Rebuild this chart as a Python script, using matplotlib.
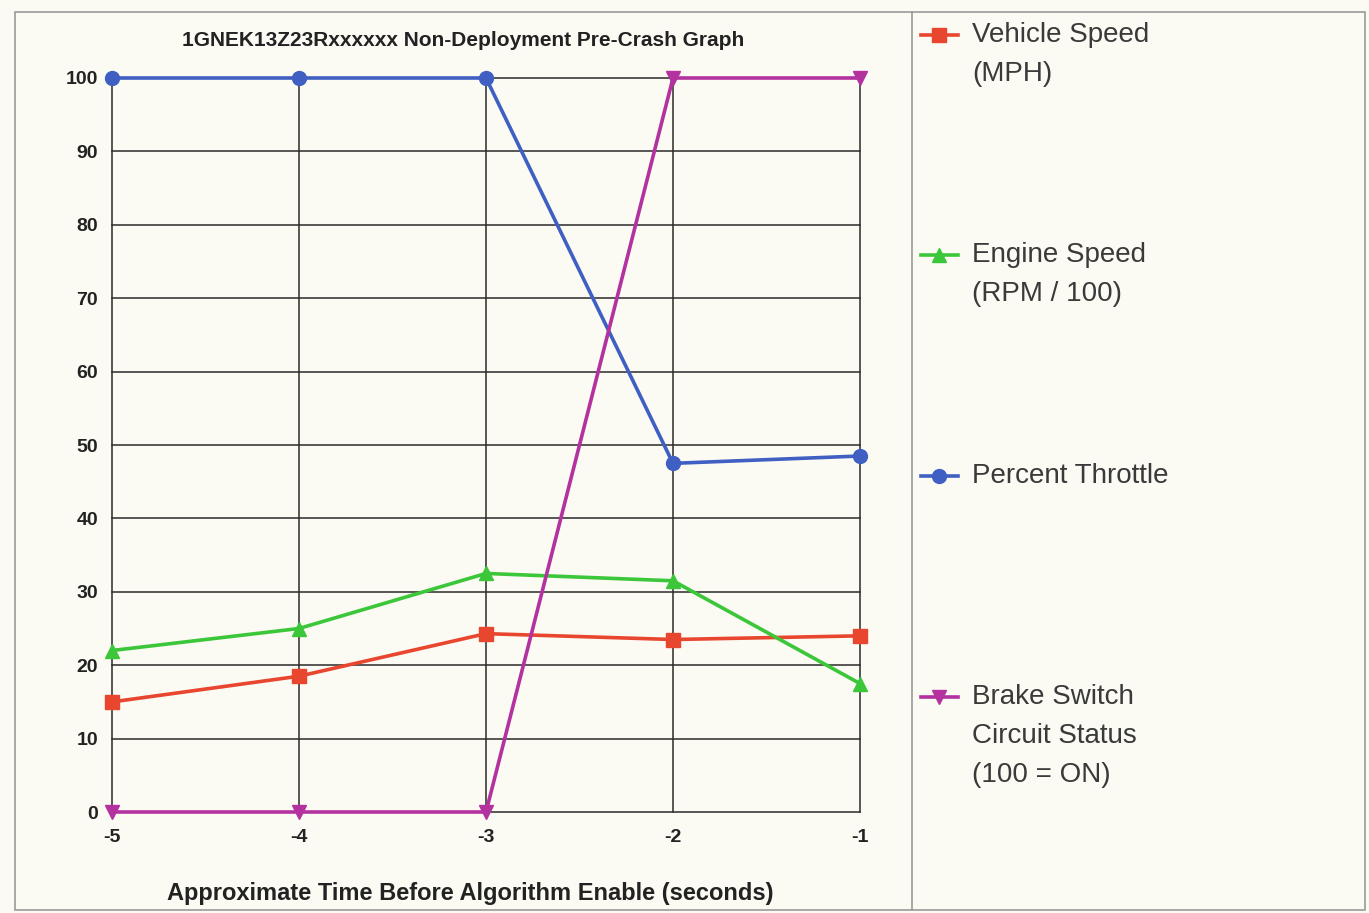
import matplotlib.pyplot as plt
from matplotlib.lines import Line2D
from matplotlib.patches import Rectangle

plt.rcParams['axes.unicode_minus'] = False

# Data
seconds = [-5, -4, -3, -2, -1]
vehicle_speed = [15, 18.5, 24.3, 23.5, 24]
engine_speed = [22, 25, 32.5, 31.5, 17.5]
percent_throttle = [100, 100, 100, 47.5, 48.5]
brake_switch = [0, 0, 0, 100, 100]

y_ticks = [0, 10, 20, 30, 40, 50, 60, 70, 80, 90, 100]

series = [
    (vehicle_speed, 's', '#e8462e', ['Vehicle Speed', '(MPH)']),
    (engine_speed, '^', '#3cc63a', ['Engine Speed', '(RPM / 100)']),
    (percent_throttle, 'o', '#3f5fc2', ['Percent Throttle']),
    (brake_switch, 'v', '#b3329f', ['Brake Switch', 'Circuit Status', '(100 = ON)']),
]

bg = '#fbfaf3'
font = ['Liberation Sans', 'DejaVu Sans']

fig = plt.figure(figsize=(13.69, 9.13), dpi=100, facecolor=bg)

# outer frame and legend divider
fig.add_artist(Rectangle((15 / 1369, 1 - 910 / 913), 1350 / 1369, 898 / 913,
                         transform=fig.transFigure, fill=False, edgecolor='#9a9a9a', lw=1.2))
fig.add_artist(Line2D([912 / 1369, 912 / 1369], [1 - 910 / 913, 1 - 12 / 913],
                      transform=fig.transFigure, color='#9a9a9a', lw=1.2))

ax = fig.add_axes([112 / 1369, 1 - 812 / 913, 748 / 1369, 734 / 913])
ax.set_facecolor(bg)

for values, marker, color, _ in series:
    ax.plot(seconds, values, color=color, lw=2.6, marker=marker, markersize=10,
            clip_on=False, zorder=3)

ax.set_xlim(-5, -1)
ax.set_ylim(0, 100)
ax.set_xticks(seconds)
ax.set_yticks(y_ticks)
ax.grid(True, color='#2a2a2a', lw=1.1)
for gl in ax.get_xgridlines() + ax.get_ygridlines():
    gl.set_clip_on(False)
for s in ax.spines.values():
    s.set_visible(False)
ax.tick_params(length=0, labelsize=14)
ax.tick_params(axis='x', pad=12)
ax.tick_params(axis='y', pad=10)
for lab in ax.get_xticklabels() + ax.get_yticklabels():
    lab.set_fontfamily(font)
    lab.set_fontweight('bold')
    lab.set_color('#222222')

ax.set_xlabel('Approximate Time Before Algorithm Enable (seconds)', fontsize=17,
              fontweight='bold', family=font, color='#222222', labelpad=26, x=0.479)
fig.text(463 / 1369, 1 - 40 / 913, '1GNEK13Z23Rxxxxxx Non-Deployment Pre-Crash Graph',
         ha='center', va='center', fontsize=15, fontweight='bold', family=font,
         color='#222222')

# legend panel
legend_y = [35, 255, 476, 697]
for (values, marker, color, label), y in zip(series, legend_y):
    yf = 1 - y / 913
    fig.add_artist(Line2D([921 / 1369, 958 / 1369], [yf, yf], transform=fig.transFigure,
                          color=color, lw=2.6))
    fig.add_artist(Line2D([939.5 / 1369], [yf], transform=fig.transFigure,
                          color=color, marker=marker, markersize=10, lw=0))
    for i, line in enumerate(label):
        fig.text(972 / 1369, 1 - (y + i * 39) / 913, line, ha='left', va='center',
                 fontsize=20, family=font, color='#3a3a3a')

fig.savefig('out.png', dpi=100, facecolor=bg)
